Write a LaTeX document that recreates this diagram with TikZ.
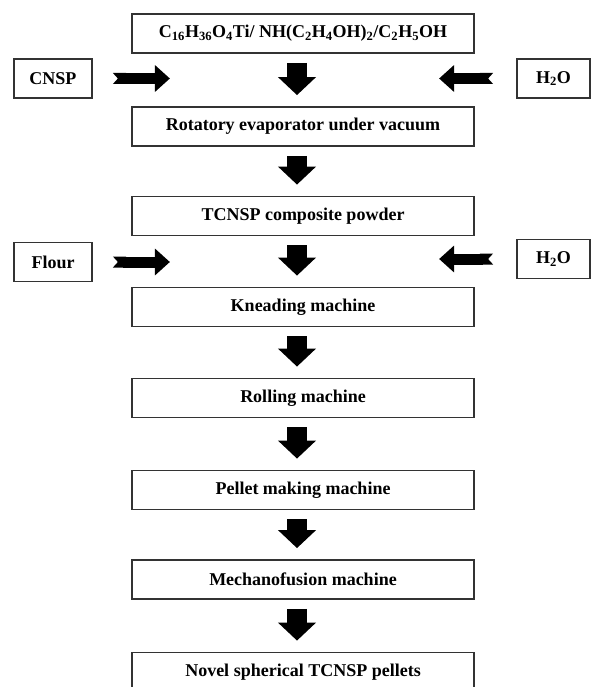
\documentclass[tikz,border=0pt]{standalone}
\usepackage{fontspec}
\setmainfont{Liberation Serif}
\usetikzlibrary{arrows.meta,calc}
\begin{document}
\begin{tikzpicture}[x=1pt,y=-1pt,
  box/.style={draw=black!80, line width=1.8pt, minimum width=342pt, minimum height=39pt, inner sep=0pt, font=\bfseries\fontsize{18}{20}\selectfont},
  sidebox/.style={box, minimum width=78pt, minimum height=39pt},
  downarrow/.style={line width=20pt, -{Triangle[length=18pt,width=37pt]}, black},
  sidearrow/.style={line width=11pt, {Triangle Cap[reversed,length=5pt]}-{Triangle[length=15pt,width=26pt]}, black}]
\clip (0,0) rectangle (592,687);
\fill[white] (0,0) rectangle (592,687);
\node[box] (n1) at (303,33.5) {C\textsubscript{16}H\textsubscript{36}O\textsubscript{4}Ti/ NH(C\textsubscript{2}H\textsubscript{4}OH)\textsubscript{2}/C\textsubscript{2}H\textsubscript{5}OH};
\node[box] (n2) at (303,126.5) {Rotatory evaporator under vacuum};
\node[box] (n3) at (303,216) {TCNSP composite powder};
\node[box] (n4) at (303,307) {Kneading machine};
\node[box] (n5) at (303,398) {Rolling machine};
\node[box] (n6) at (303,490) {Pellet making machine};
\node[box] (n7) at (303,579.5) {Mechanofusion machine};
\node[box] (n8) at (303,672) {Novel spherical TCNSP pellets};
\node[sidebox] (cnsp) at (53,78.5) {CNSP};
\node[sidebox, minimum width=73pt] (w1) at (553.5,78.5) {H\textsubscript{2}O};
\node[sidebox] (flour) at (53,262) {Flour};
\node[sidebox, minimum width=73pt] (w2) at (553.5,259) {H\textsubscript{2}O};
\foreach \a/\b in {n1/n2,n2/n3,n3/n4,n4/n5,n5/n6,n6/n7,n7/n8}
  \draw[downarrow] ($(\a.south)+(-6,9)$) -- ($(\b.north)+(-6,-11)$);
\draw[sidearrow] ($(cnsp.east)+(20,0)$) -- ($(cnsp.east)+(77,0)$);
\draw[sidearrow] ($(w1.west)+(-23,0)$) -- ($(w1.west)+(-77,0)$);
\draw[sidearrow] ($(flour.east)+(20,0)$) -- ($(flour.east)+(77,0)$);
\draw[sidearrow] ($(w2.west)+(-23,0)$) -- ($(w2.west)+(-77,0)$);
\end{tikzpicture}
\end{document}
